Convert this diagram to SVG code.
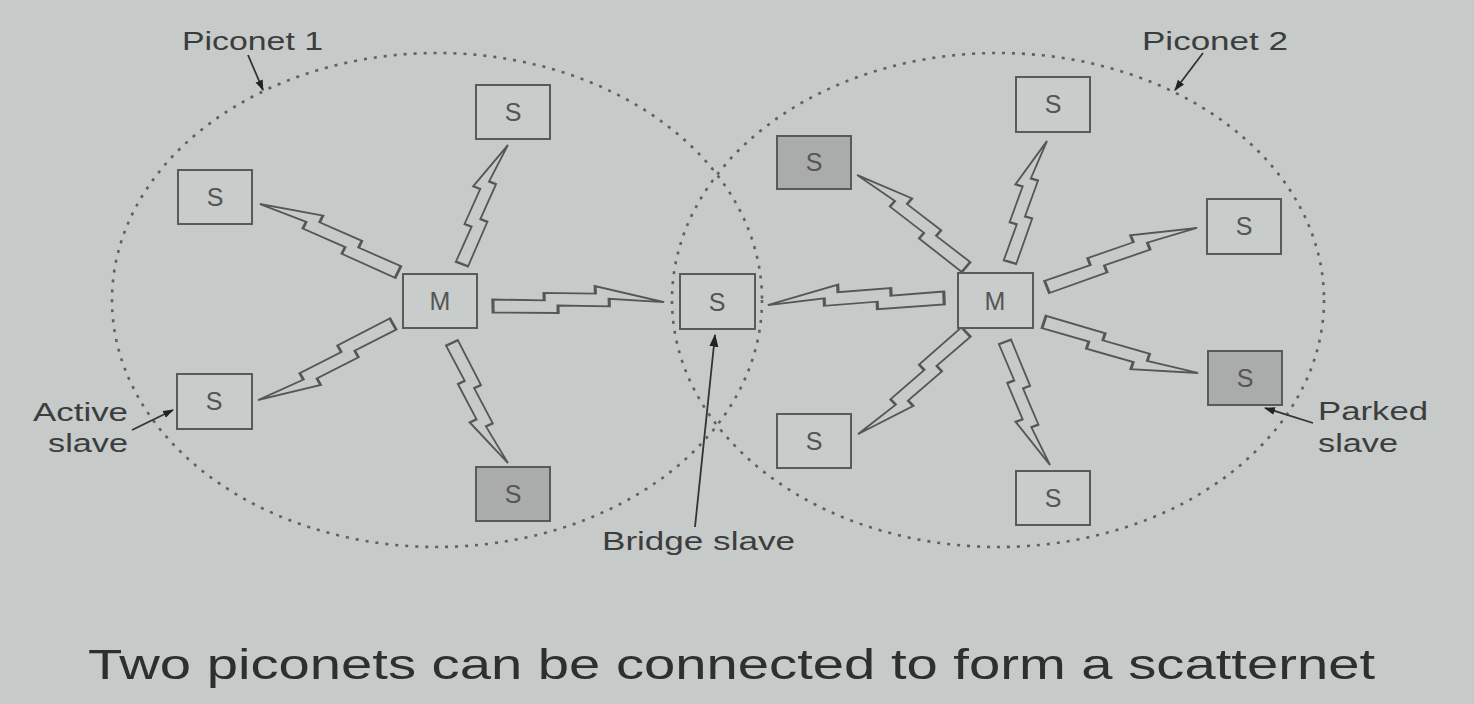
<svg xmlns="http://www.w3.org/2000/svg" width="1474" height="704" viewBox="0 0 1474 704">
<defs>
<style>
.bg{fill:#c6cac8}
.net{fill:none;stroke:#5f6160;stroke-width:2.6;stroke-dasharray:3 7}
.box{fill:#c8ccca;stroke:#595a5a;stroke-width:2}
.park{fill:#a9acab;stroke:#595a5a;stroke-width:2}
.bt{font-family:"Liberation Sans",Arial,sans-serif;font-size:25px;fill:#555;text-anchor:middle}
.lbl{font-family:"Liberation Sans",Arial,sans-serif;font-size:25px;fill:#3c3d3d}
.title{font-family:"Liberation Sans",Arial,sans-serif;font-size:43px;fill:#2e2f2f}
.bolt{fill:none;stroke:#555756;stroke-width:1.8;stroke-linejoin:miter;vector-effect:non-scaling-stroke}
.arr{fill:none;stroke:#333;stroke-width:1.8}
</style>
<polygon id="boltshape" points="0,-6.5 30,-4.5 30,-12 60,-10 60,-17.5 100,0 68,-4.5 68,3 38,1 38,8.5 0,6.5"/>
<marker id="ah" viewBox="0 0 10 10" refX="9" refY="5" markerWidth="11" markerHeight="11" orient="auto" markerUnits="userSpaceOnUse">
<path d="M0,1.5 L10,5 L0,8.5 z" fill="#222"/>
</marker>
<marker id="ahb" viewBox="0 0 10 10" refX="9" refY="5" markerWidth="13" markerHeight="13" orient="auto" markerUnits="userSpaceOnUse">
<path d="M0,1.5 L10,5 L0,8.5 z" fill="#222"/>
</marker>
</defs>
<rect class="bg" x="0" y="0" width="1474" height="704"/>

<g id="piconet1">
<ellipse class="net" cx="437" cy="300" rx="325" ry="247"/>
</g>
<g id="piconet2">
<ellipse class="net" cx="998" cy="300" rx="326" ry="247"/>
</g>

<g id="connectors">
<use href="#boltshape" class="bolt" transform="translate(462,264) rotate(-68.9) scale(1.276,1)"/>
<use href="#boltshape" class="bolt" transform="translate(398,272) rotate(-153.8) scale(1.538,-1)"/>
<use href="#boltshape" class="bolt" transform="translate(393,324) rotate(150.6) scale(1.549,1)"/>
<use href="#boltshape" class="bolt" transform="translate(452,343) rotate(65) scale(1.324,-1)"/>
<use href="#boltshape" class="bolt" transform="translate(493,306) rotate(-1.3) scale(1.71,1)"/>
<use href="#boltshape" class="bolt" transform="translate(944,298) rotate(177.7) scale(1.761,-1)"/>
<use href="#boltshape" class="bolt" transform="translate(966,267) rotate(-139.8) scale(1.426,-1)"/>
<use href="#boltshape" class="bolt" transform="translate(1010,262) rotate(-73) scale(1.265,1)"/>
<use href="#boltshape" class="bolt" transform="translate(1047,287) rotate(-21.5) scale(1.612,1)"/>
<use href="#boltshape" class="bolt" transform="translate(1044,322) rotate(18.3) scale(1.622,-1)"/>
<use href="#boltshape" class="bolt" transform="translate(966,332) rotate(136.6) scale(1.486,1)"/>
<use href="#boltshape" class="bolt" transform="translate(1005,342) rotate(69.9) scale(1.31,-1)"/>
<line class="arr" x1="248" y1="55" x2="263" y2="90" marker-end="url(#ah)"/>
<line class="arr" x1="1203" y1="53" x2="1175" y2="90" marker-end="url(#ah)"/>
<line class="arr" x1="132" y1="430" x2="173" y2="410" marker-end="url(#ah)"/>
<line class="arr" x1="1313" y1="423" x2="1265" y2="408" marker-end="url(#ah)"/>
<line class="arr" x1="695" y1="527" x2="715" y2="335" marker-end="url(#ahb)"/>
</g>

<g id="p1-master"><rect class="box" x="403" y="274" width="74" height="54"/><text class="bt" x="440" y="310">M</text></g>
<g id="p1-s-top"><rect class="box" x="476" y="85" width="74" height="54"/><text class="bt" x="513" y="121">S</text></g>
<g id="p1-s-left"><rect class="box" x="178" y="170" width="74" height="54"/><text class="bt" x="215" y="206">S</text></g>
<g id="p1-s-active"><rect class="box" x="177" y="374" width="75" height="55"/><text class="bt" x="214" y="410">S</text></g>
<g id="p1-s-parked"><rect class="park" x="476" y="467" width="74" height="54"/><text class="bt" x="513" y="503">S</text></g>
<g id="bridge-slave"><rect class="box" x="680" y="274" width="75" height="55"/><text class="bt" x="717" y="311">S</text></g>

<g id="p2-master"><rect class="box" x="958" y="273" width="75" height="55"/><text class="bt" x="995" y="310">M</text></g>
<g id="p2-s-top"><rect class="box" x="1016" y="77" width="74" height="55"/><text class="bt" x="1053" y="113">S</text></g>
<g id="p2-s-parked1"><rect class="park" x="777" y="136" width="74" height="53"/><text class="bt" x="814" y="171">S</text></g>
<g id="p2-s-right"><rect class="box" x="1207" y="199" width="74" height="55"/><text class="bt" x="1244" y="235">S</text></g>
<g id="p2-s-parked2"><rect class="park" x="1208" y="351" width="74" height="54"/><text class="bt" x="1245" y="387">S</text></g>
<g id="p2-s-lowleft"><rect class="box" x="777" y="414" width="74" height="54"/><text class="bt" x="814" y="450">S</text></g>
<g id="p2-s-bottom"><rect class="box" x="1016" y="471" width="74" height="54"/><text class="bt" x="1053" y="507">S</text></g>

<g id="labels">
<text class="lbl" x="182" y="50" textLength="141" lengthAdjust="spacingAndGlyphs">Piconet 1</text>
<text class="lbl" x="1142" y="50" textLength="146" lengthAdjust="spacingAndGlyphs">Piconet 2</text>
<text class="lbl" x="33" y="421" textLength="95" lengthAdjust="spacingAndGlyphs">Active</text>
<text class="lbl" x="48" y="452" textLength="80" lengthAdjust="spacingAndGlyphs">slave</text>
<text class="lbl" x="1318" y="420" textLength="110" lengthAdjust="spacingAndGlyphs">Parked</text>
<text class="lbl" x="1318" y="452" textLength="80" lengthAdjust="spacingAndGlyphs">slave</text>
<text class="lbl" x="602" y="550" textLength="193" lengthAdjust="spacingAndGlyphs">Bridge slave</text>
<text class="title" x="88" y="679" textLength="1287" lengthAdjust="spacingAndGlyphs">Two piconets can be connected to form a scatternet</text>
</g>
</svg>
